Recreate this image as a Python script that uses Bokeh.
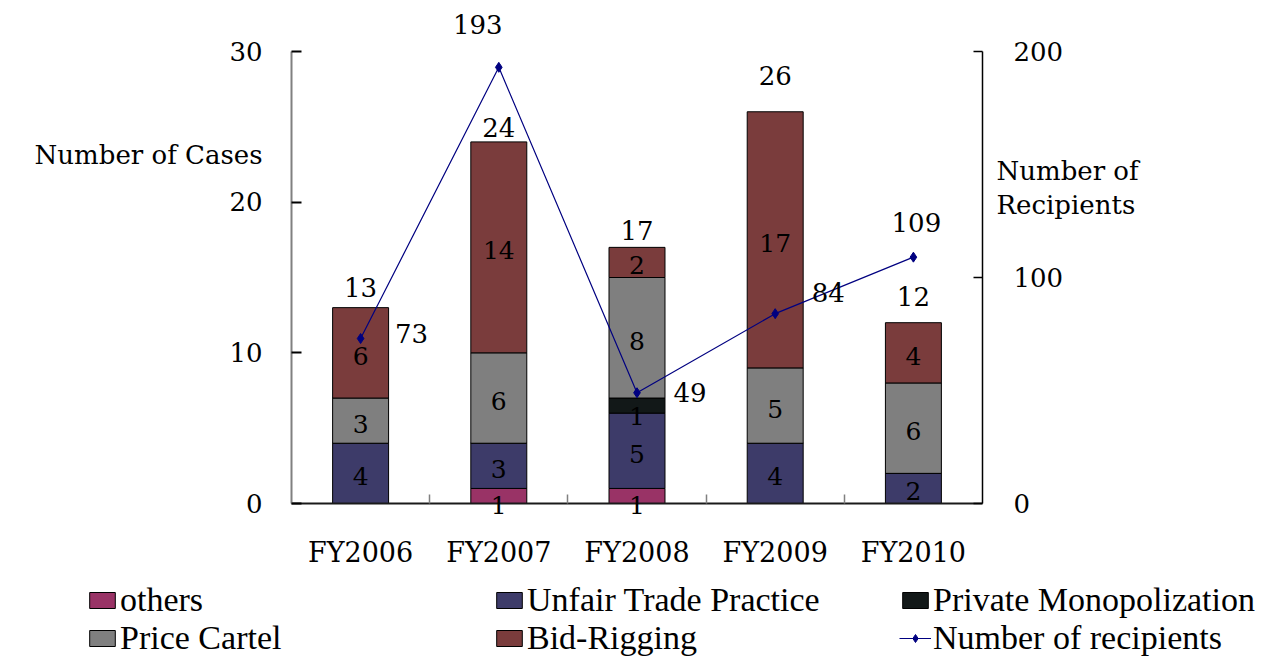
from bokeh.plotting import figure
from bokeh.models import (Range1d, LinearAxis, FixedTicker, ColumnDataSource, Legend,
                          LegendItem, LabelSet)
from bokeh.embed import file_html
from bokeh.resources import INLINE
from bokeh.core.properties import value
import numpy as np

# ---------------- data ----------------
categories = ["FY2006", "FY2007", "FY2008", "FY2009", "FY2010"]
others = [0, 1, 1, 0, 0]
unfair_trade = [4, 3, 5, 4, 2]
private_monopolization = [0, 0, 1, 0, 0]
price_cartel = [3, 6, 8, 5, 6]
bid_rigging = [6, 14, 2, 17, 4]
recipients = [73, 193, 49, 84, 109]
series_names = ["others", "Unfair Trade Practice", "Private Monopolization",
                "Price Cartel", "Bid-Rigging"]
line_name = "Number of recipients"
left_ticks = [0, 10, 20, 30]
right_ticks = [0, 100, 200]
left_title = "Number of Cases"
right_title = ["Number of", "Recipients"]

# ---------------- styles / layout ----------------
colors = ["#993366", "#3D3B69", "#121818", "#7F7F7F", "#7A3C3C"]
line_color = "#000080"
SERIF = "DejaVu Serif"
LEG_FONT = "Liberation Serif"
W, H = 1265, 657
AX_L, AX_R, AX_T, AX_B = 291, 982, 51, 503      # pixel box of the axes
seg_label_dy = [-9, -3, -10, -3, -3]          # px shift of in-bar labels per series
total_label_dy = [20, 14, 17, 36, 26]          # px above bar tops
rec_label_dx = [51, -21, 53, 53, 3]            # px shift of recipient labels
rec_label_dy = [5, 43, 0, 21, 35]
left_title_pos = 23.1                          # left-axis units
right_title_pos = [147.3, 131.9]               # right-axis units
legend_cols_x = [86, 493, 899]                 # px from left edge

ncat = len(categories)
ymax = left_ticks[-1]
rec_factor = right_ticks[-1] / ymax
ppx = (AX_R - AX_L) / ncat
ppy = (AX_B - AX_T) / ymax
x_lo, x_hi = -AX_L / ppx, ncat + (W - AX_R) / ppx
y_lo, y_hi = -(H - AX_B) / ppy, AX_B / ppy

series = [others, unfair_trade, private_monopolization, price_cartel, bid_rigging]
keys = ["s%d" % i for i in range(len(series))]
x = (np.arange(ncat) + 0.5).tolist()

data = {"x": x}
for k, s in zip(keys, series):
    data[k] = s
source = ColumnDataSource(data)

p = figure(width=W, height=H, x_range=Range1d(x_lo, x_hi), y_range=Range1d(y_lo, y_hi),
           output_backend="svg", toolbar_location=None, min_border=0)
p.xgrid.visible = False
p.ygrid.visible = False
p.outline_line_color = None

bars = p.vbar_stack(keys, x="x", width=0.405, color=colors, line_color="black",
                    line_width=1, source=source)

p.extra_y_ranges = {"rec": Range1d(y_lo * rec_factor, y_hi * rec_factor)}
line_r = p.line(x, recipients, y_range_name="rec", line_color=line_color, line_width=1.2)
pt_r = p.scatter(x, recipients, y_range_name="rec", marker="diamond", size=10,
                 fill_color=line_color, line_color=line_color)

# ---------- x axis ----------
xa = p.xaxis[0]
xa.fixed_location = 0
xa.bounds = (0, ncat)
xa.ticker = FixedTicker(ticks=x, minor_ticks=list(range(1, ncat)))
xa.major_label_overrides = {xv: c for xv, c in zip(x, categories)}
xa.major_tick_line_color = None
xa.minor_tick_in = 9
xa.minor_tick_out = 0
xa.minor_tick_line_color = "#808080"
xa.minor_tick_line_width = 1.5
xa.axis_line_color = "#1a1a1a"
xa.axis_line_width = 2
xa.major_label_standoff = 27
xa.major_label_text_font = SERIF
xa.major_label_text_font_size = "27px"
xa.major_label_text_color = "black"

# ---------- left axis (numbers + horizontal title as a tick label) ----------
ya = p.yaxis[0]
ya.fixed_location = 0
ya.bounds = (left_ticks[0], left_ticks[-1])
ya.ticker = FixedTicker(ticks=left_ticks + [left_title_pos], minor_ticks=left_ticks)
ya.major_label_overrides = dict([(float(t), str(t)) for t in left_ticks] +
                                [(left_title_pos, left_title)])
ya.major_tick_line_color = None
ya.minor_tick_in = 10
ya.minor_tick_out = 0
ya.minor_tick_line_color = "black"
ya.minor_tick_line_width = 2
ya.axis_line_color = "#808080"
ya.axis_line_width = 2
ya.major_label_standoff = 23
ya.major_label_text_font = SERIF
ya.major_label_text_font_size = "26px"
ya.major_label_text_color = "black"

# ---------- right axis ----------
ra = LinearAxis(y_range_name="rec", ticker=FixedTicker(ticks=right_ticks, minor_ticks=right_ticks),
                bounds=(right_ticks[0], right_ticks[-1]), fixed_location=ncat)
ra.major_tick_line_color = None
ra.minor_tick_in = 9
ra.minor_tick_out = 0
ra.minor_tick_line_color = "black"
ra.minor_tick_line_width = 1.5
ra.axis_line_color = "black"
ra.axis_line_width = 1.5
ra.major_label_standoff = 25
ra.major_label_text_font = SERIF
ra.major_label_text_font_size = "26px"
ra.major_label_text_color = "black"
p.add_layout(ra, "right")

rt = LinearAxis(y_range_name="rec", ticker=FixedTicker(ticks=right_title_pos, minor_ticks=[]),
                major_label_overrides={t: s for t, s in zip(right_title_pos, right_title)},
                fixed_location=ncat)
rt.axis_line_color = None
rt.major_tick_line_color = None
rt.minor_tick_line_color = None
rt.major_label_standoff = 8
rt.major_label_text_font = SERIF
rt.major_label_text_font_size = "26px"
rt.major_label_text_color = "black"
p.add_layout(rt, "right")

# ---------- labels inside bars ----------
sx, sy, st, sdy = [], [], [], []
bottoms = [0] * ncat
for si, s in enumerate(series):
    for ci, v in enumerate(s):
        if v > 0:
            sx.append(x[ci])
            sy.append(bottoms[ci] + v / 2)
            st.append(str(v))
            sdy.append(seg_label_dy[si])
        bottoms[ci] += v
seg_src = ColumnDataSource(dict(x=sx, y=sy, t=st, dy=sdy))
p.add_layout(LabelSet(x="x", y="y", text="t", y_offset="dy", source=seg_src,
                      text_align="center", text_baseline="middle",
                      text_font=value(SERIF), text_font_size="25px", text_color="black"))

totals = bottoms
tot_src = ColumnDataSource(dict(x=x, y=totals, t=[str(v) for v in totals], dy=total_label_dy))
p.add_layout(LabelSet(x="x", y="y", text="t", y_offset="dy", source=tot_src,
                      text_align="center", text_baseline="middle",
                      text_font=value(SERIF), text_font_size="26px", text_color="black"))

rec_src = ColumnDataSource(dict(x=x, y=recipients, t=[str(v) for v in recipients],
                                dx=rec_label_dx, dy=rec_label_dy))
p.add_layout(LabelSet(x="x", y="y", text="t", x_offset="dx", y_offset="dy", source=rec_src,
                      y_range_name="rec", text_align="center", text_baseline="middle",
                      text_font=value(SERIF), text_font_size="26px", text_color="black"))

# ---------- legend (three columns) ----------
items = [LegendItem(label=n, renderers=[r]) for n, r in zip(series_names, bars)]
line_item = LegendItem(label=line_name, renderers=[line_r, pt_r])
columns = [[items[0], items[3]], [items[1], items[4]], [items[2], line_item]]
for cols, lx in zip(columns, legend_cols_x):
    leg = Legend(items=cols, location=(lx, 0), orientation="vertical",
                 padding=0, spacing=0, margin=0, border_line_color=None,
                 background_fill_alpha=0, glyph_width=32, glyph_height=20,
                 label_standoff=2, label_height=20,
                 label_text_font=LEG_FONT, label_text_font_size="34px",
                 label_text_color="black")
    p.add_layout(leg, "center")

open("out.html", "w").write(file_html(p, INLINE))
